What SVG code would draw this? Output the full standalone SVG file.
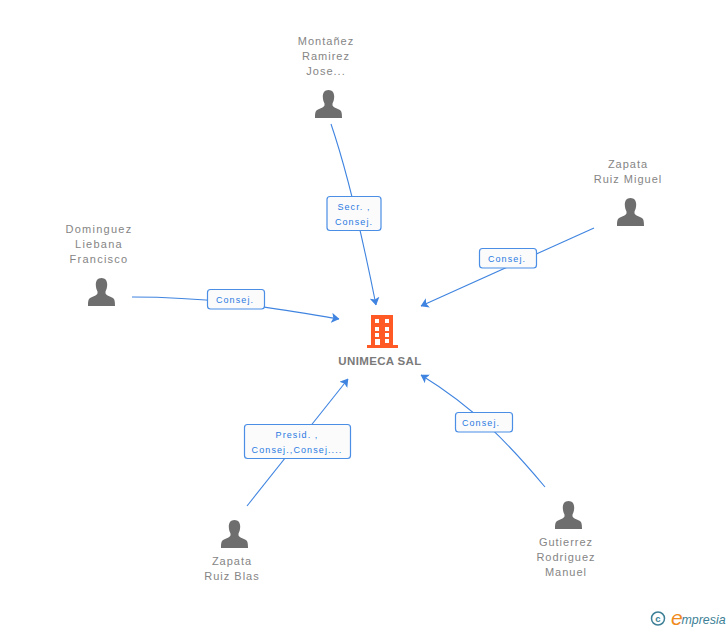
<svg xmlns="http://www.w3.org/2000/svg" width="728" height="630" viewBox="0 0 728 630">
<style>
text{font-family:"Liberation Sans",Arial,sans-serif}
.n{font-size:11px;fill:#858585;text-anchor:middle;letter-spacing:1px}
.w{letter-spacing:1.25px}
.l{font-size:9px;fill:#2a7ae2;text-anchor:middle;letter-spacing:1.1px}
.c{fill:none;stroke:#3f84e0;stroke-width:1.1}
.b{fill:#fbfbfb;stroke:#4a8ee6;stroke-width:1.2}
</style>
<defs>
<marker id="a" viewBox="0 0 8 10" refX="7.500" refY="5" markerWidth="8" markerHeight="10" markerUnits="userSpaceOnUse" orient="auto"><path d="M0 0L8 5L0 10L1.800 5Z" fill="#3f84e0"/></marker>
<symbol id="p" viewBox="0 0 28 28" width="28" height="28"><path fill="#6e6e6e" d="M14 0C17.800 0 19.700 2.800 19.700 6.500C19.700 9.500 18.900 11.800 18 13.400L18 15.500C19 17.500 21.500 18.200 24.500 19.500C27 20.600 27.500 22.500 27.500 28L.5 28C.5 22.500 1 20.600 3.500 19.500C6.500 18.200 9 17.500 10 15.500L10 13.400C9.100 11.800 8.300 9.500 8.300 6.500C8.300 2.800 10.200 0 14 0Z"/></symbol>
</defs>
<g id="connectors">
<path class="c" marker-end="url(#a)" d="M331 124C345 165 360 225 376 305"/>
<path class="c" marker-end="url(#a)" d="M594 228L421 306"/>
<path class="c" marker-end="url(#a)" d="M132 297C210 297 260 306 339 319"/>
<path class="c" marker-end="url(#a)" d="M247 506L348 379"/>
<path class="c" marker-end="url(#a)" d="M545 487C510 445 475 408 421 375"/>
</g>
<g id="node-montanez"><text class="n" x="326" y="45">Montañez</text><text class="n" x="326" y="60">Ramirez</text><text class="n" x="326" y="75">Jose...</text><use href="#p" x="314.500" y="90"/></g>
<g id="node-zapata-miguel"><text class="n" x="628" y="168">Zapata</text><text class="n" x="628" y="183">Ruiz Miguel</text><use href="#p" x="616.500" y="198"/></g>
<g id="node-dominguez"><text class="n w" x="99" y="233">Dominguez</text><text class="n w" x="99" y="248">Liebana</text><text class="n w" x="99" y="263">Francisco</text><use href="#p" x="87.500" y="278"/></g>
<g id="node-zapata-blas"><text class="n" x="232" y="565">Zapata</text><text class="n" x="232" y="580">Ruiz Blas</text><use href="#p" x="220.500" y="520"/></g>
<g id="node-gutierrez"><text class="n" x="566" y="546">Gutierrez</text><text class="n" x="566" y="561">Rodriguez</text><text class="n" x="566" y="576">Manuel</text><use href="#p" x="554.500" y="501"/></g>
<g id="node-unimeca">
<path fill="#ff5a26" fill-rule="evenodd" d="M371 315H393V345H398V348H367V345H371ZM375 319V323H379V319ZM385 319V323H389V319ZM375 327V331H379V327ZM385 327V331H389V327ZM375 333V337H379V333ZM385 333V337H389V333ZM375 339V345H380V339ZM385 339V343H389V339Z"/>
<text x="380" y="365" text-anchor="middle" font-size="11.500" font-weight="bold" fill="#7a7a7a" letter-spacing=".35">UNIMECA SAL</text>
</g>
<g id="label-secr"><rect class="b" x="327" y="196.500" width="54" height="34" rx="3"/><text class="l" x="354" y="210">Secr. ,</text><text class="l" x="354" y="225">Consej.</text></g>
<g id="label-miguel"><rect class="b" x="479.500" y="248.500" width="57" height="19.500" rx="3"/><text class="l" x="507" y="262">Consej.</text></g>
<g id="label-dominguez"><rect class="b" x="207.500" y="289.500" width="57" height="19.500" rx="3"/><text class="l" x="235" y="303">Consej.</text></g>
<g id="label-blas"><rect class="b" x="244.500" y="424.500" width="106" height="34" rx="3"/><text class="l" x="297" y="438">Presid. ,</text><text class="l" x="297" y="453">Consej.,Consej....</text></g>
<g id="label-gutierrez"><rect class="b" x="455.500" y="412.500" width="57" height="19.500" rx="3"/><text class="l" x="481" y="426">Consej.</text></g>
<g id="logo">
<circle cx="658" cy="618.500" r="6.500" fill="none" stroke="#3d7f96" stroke-width="1.500"/>
<text x="658" y="622" text-anchor="middle" font-size="9.500" fill="#3d7f96" font-weight="bold">c</text>
<text x="671" y="625" font-size="21" font-style="italic" fill="#f08a1d" font-family="Liberation Serif">e</text>
<text x="681.500" y="624" font-size="12.400" font-style="italic" fill="#3d7f96">mpresia</text>
</g>
</svg>
